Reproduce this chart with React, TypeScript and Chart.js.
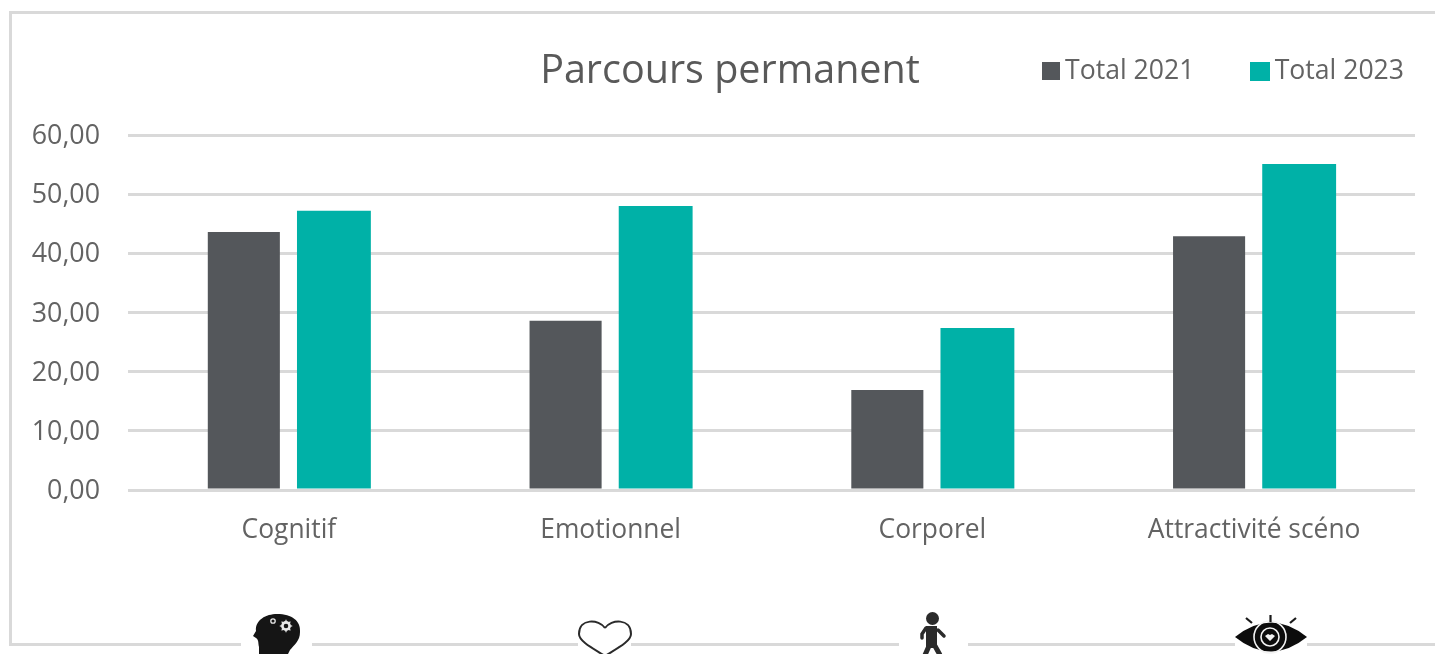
import React, { useEffect, useRef } from "react";
import { Chart, registerables } from "chart.js";

Chart.register(...registerables);

const categories = ["Cognitif", "Emotionnel", "Corporel", "Attractivité scéno"];
const total2021 = [43.6, 28.6, 16.9, 42.9];
const total2023 = [47.2, 48.0, 27.4, 55.1];
const seriesNames = ["Total 2021", "Total 2023"];
const chartTitle = "Parcours permanent";

const DARK = "#54575b";
const TEAL = "#00b1a7";
const TEXT = "#636363";
const LINE = "#d9d9d9";
const FONT = "'Open Sans', sans-serif";

function swatch(color: string, w: number, h: number) {
  const c = document.createElement("canvas");
  c.width = w;
  c.height = h;
  const x = c.getContext("2d")!;
  x.fillStyle = color;
  x.fillRect(0, 0, w, h);
  return c;
}

function drawFrame(ctx: CanvasRenderingContext2D) {
  ctx.strokeStyle = LINE;
  ctx.lineWidth = 3;
  ctx.beginPath();
  ctx.moveTo(1435, 12.5);
  ctx.lineTo(10.5, 12.5);
  ctx.lineTo(10.5, 644.5);
  const gaps = [[241, 312], [578, 631], [899, 968], [1235, 1307]];
  for (const [a, b] of gaps) {
    ctx.lineTo(a, 644.5);
    ctx.moveTo(b, 644.5);
  }
  ctx.lineTo(1435, 644.5);
  ctx.stroke();
}

function gear(ctx: CanvasRenderingContext2D, x: number, y: number, r: number, w: number, teeth: number) {
  ctx.strokeStyle = "#e8e8e8";
  ctx.lineWidth = w;
  ctx.beginPath();
  ctx.arc(x, y, r, 0, Math.PI * 2);
  ctx.stroke();
  ctx.lineWidth = 1.2;
  for (let i = 0; i < teeth; i++) {
    const a = (i / teeth) * Math.PI * 2;
    ctx.beginPath();
    ctx.moveTo(x + Math.cos(a) * r, y + Math.sin(a) * r);
    ctx.lineTo(x + Math.cos(a) * (r + w), y + Math.sin(a) * (r + w));
    ctx.stroke();
  }
}

function drawHead(ctx: CanvasRenderingContext2D) {
  ctx.fillStyle = "#151515";
  ctx.beginPath();
  ctx.moveTo(259, 654);
  ctx.lineTo(259, 647);
  ctx.bezierCurveTo(258, 643, 259, 640, 256, 638);
  ctx.lineTo(253, 636);
  ctx.lineTo(256, 631);
  ctx.bezierCurveTo(255, 620, 266, 614, 277, 614);
  ctx.bezierCurveTo(292, 614, 301, 621, 300, 632);
  ctx.bezierCurveTo(300, 641, 294, 645, 290, 650);
  ctx.lineTo(288, 654);
  ctx.closePath();
  ctx.fill();
  gear(ctx, 286, 626, 3.6, 2.6, 8);
  gear(ctx, 273, 621, 2.2, 1.3, 0);
}

function drawHeart(ctx: CanvasRenderingContext2D) {
  ctx.strokeStyle = "#2a2a2a";
  ctx.lineWidth = 2;
  ctx.beginPath();
  ctx.moveTo(605, 628);
  ctx.bezierCurveTo(599, 619, 579, 618, 579, 634);
  ctx.bezierCurveTo(579, 642, 596, 650, 605, 656);
  ctx.bezierCurveTo(614, 650, 631, 642, 631, 634);
  ctx.bezierCurveTo(631, 618, 611, 619, 605, 628);
  ctx.stroke();
}

function drawWalker(ctx: CanvasRenderingContext2D) {
  ctx.fillStyle = "#2b2b2b";
  ctx.strokeStyle = "#2b2b2b";
  ctx.beginPath();
  ctx.arc(932.5, 618.5, 6.5, 0, Math.PI * 2);
  ctx.fill();
  ctx.fillRect(926, 626, 11, 22);
  ctx.lineCap = "round";
  ctx.lineWidth = 3.5;
  ctx.beginPath();
  ctx.moveTo(926, 628);
  ctx.lineTo(922, 634);
  ctx.lineTo(922, 638);
  ctx.moveTo(938, 630);
  ctx.lineTo(944, 636);
  ctx.stroke();
  ctx.lineCap = "butt";
  ctx.lineWidth = 5;
  ctx.beginPath();
  ctx.moveTo(929, 646);
  ctx.lineTo(925, 655);
  ctx.moveTo(935, 646);
  ctx.lineTo(940, 655);
  ctx.stroke();
}

function drawEye(ctx: CanvasRenderingContext2D) {
  const cx = 1271;
  const cy = 637;
  ctx.fillStyle = "#0c0c0c";
  ctx.beginPath();
  ctx.moveTo(1235, cy);
  ctx.quadraticCurveTo(cx, 608, 1307, cy);
  ctx.quadraticCurveTo(cx, 666, 1235, cy);
  ctx.fill();
  ctx.strokeStyle = "#f2f2f2";
  ctx.lineWidth = 1.6;
  ctx.beginPath();
  ctx.arc(cx - 1, cy, 16, 0, Math.PI * 2);
  ctx.stroke();
  ctx.beginPath();
  ctx.arc(cx - 1, cy, 9, 0, Math.PI * 2);
  ctx.stroke();
  ctx.fillStyle = "#f2f2f2";
  ctx.beginPath();
  ctx.moveTo(cx - 1, cy + 4);
  ctx.lineTo(cx - 6, cy - 1);
  ctx.lineTo(cx - 3, cy - 3);
  ctx.lineTo(cx - 1, cy - 2);
  ctx.lineTo(cx + 1, cy - 3);
  ctx.lineTo(cx + 4, cy - 1);
  ctx.closePath();
  ctx.fill();
  ctx.strokeStyle = "#1a1a1a";
  ctx.lineWidth = 2.2;
  ctx.beginPath();
  ctx.moveTo(1270.5, 615);
  ctx.lineTo(1270.5, 622);
  ctx.moveTo(1246, 618);
  ctx.lineTo(1252, 623);
  ctx.moveTo(1296, 618);
  ctx.lineTo(1290, 623);
  ctx.stroke();
}

const decorations = {
  id: "decorations",
  beforeLayout(chart: any) {
    const legend = chart.legend;
    if (legend && !legend.__flat) {
      legend.__flat = true;
      const fit = legend.fit;
      legend.fit = function () {
        fit.call(this);
        this.height = 0;
      };
    }
  },
  afterLayout(chart: any) {
    chart.titleBlock.left = 45;
    if (chart.legend) {
      chart.legend.top = 71 - 65 - chart.legend.legendHitBoxes[0].height / 2;
      chart.legend.right = 1404 + 65;
    }
  },
  beforeDraw(chart: any) {
    const { ctx } = chart;
    ctx.save();
    ctx.fillStyle = "#ffffff";
    ctx.fillRect(0, 0, chart.width, chart.height);
    drawFrame(ctx);
    drawHead(ctx);
    drawHeart(ctx);
    drawWalker(ctx);
    drawEye(ctx);
    ctx.restore();
  },
};

export default function App() {
  const ref = useRef<HTMLCanvasElement>(null);
  useEffect(() => {
    const chart = new Chart(ref.current!, {
      type: "bar",
      data: {
        labels: categories,
        datasets: [
          { label: seriesNames[0], data: total2021, backgroundColor: DARK, barPercentage: 0.8 },
          { label: seriesNames[1], data: total2023, backgroundColor: TEAL, barPercentage: 0.82 },
        ],
      },
      plugins: [decorations],
      options: {
        responsive: false,
        animation: false,
        datasets: { bar: { categoryPercentage: 0.56 } },
        layout: { padding: { top: 0, right: 20, left: 0, bottom: 0 } },
        plugins: {
          tooltip: { enabled: false },
          title: {
            display: true,
            text: chartTitle,
            color: "#595959",
            font: { family: FONT, size: 39.5, weight: "normal", lineHeight: 1.2 },
            padding: { top: 48.5, bottom: 39.1 },
          },
          legend: {
            position: "top",
            align: "end",
            labels: {
              color: TEXT,
              font: { family: FONT, size: 26.6 },
              padding: 65,
              usePointStyle: true,
              pointStyleWidth: 2,
              boxHeight: 26,
              generateLabels: () => [
                { text: seriesNames[0], pointStyle: swatch(DARK, 18, 18), lineWidth: 0, fontColor: TEXT, datasetIndex: 0 },
                { text: seriesNames[1], pointStyle: swatch(TEAL, 20, 19), lineWidth: 0, fontColor: TEXT, datasetIndex: 1 },
              ],
            },
          },
        },
        scales: {
          x: {
            grid: { display: false },
            border: { display: false },
            afterFit: (s: any) => {
              s.height = 164;
            },
            ticks: { color: TEXT, font: { family: FONT, size: 26.4 }, padding: 17, maxRotation: 0 },
          },
          y: {
            min: 0,
            max: 60,
            afterFit: (s: any) => {
              s.width = 128;
            },
            grid: { color: LINE, lineWidth: 3, drawTicks: false },
            border: { display: false },
            ticks: {
              stepSize: 10,
              color: TEXT,
              font: { family: FONT, size: 26.8 },
              padding: 28,
              labelOffset: 1.5,
              callback: (v: any) => Number(v).toFixed(2).replace(".", ","),
            },
          },
        },
      } as any,
    });
    return () => chart.destroy();
  }, []);
  return (
    <canvas
      ref={ref}
      width={1435}
      height={654}
      style={{ position: "fixed", left: 0, top: 0, display: "block" }}
    />
  );
}
